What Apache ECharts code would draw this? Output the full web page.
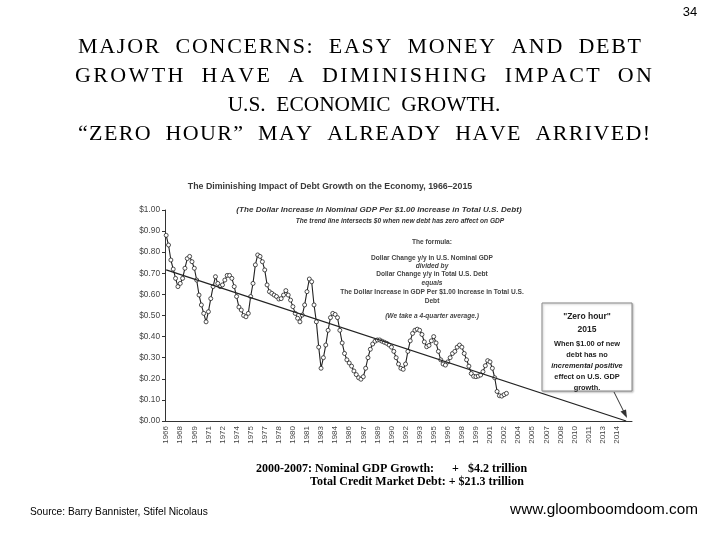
<!DOCTYPE html>
<html>
<head>
<meta charset="utf-8">
<script src="https://cdn.jsdelivr.net/npm/echarts@6/dist/echarts.min.js"></script>
<style>
html,body{margin:0;padding:0;background:#fff;}
#chart{width:720px;height:540px;}
</style>
</head>
<body>
<div id="chart"></div>
<script>
// ---- data (quarterly, starting 1966 Q3) ----
const startYear = 1966, startQuarter = 3, nCategories = 199;
const xTickLabels = ['1966','1968','1969','1971','1972','1974','1975','1977','1978','1980','1981','1983','1984','1986','1987','1989','1990','1992','1993','1995','1996','1998','1999','2001','2002','2004','2005','2007','2008','2010','2011','2013','2014'];
const ratio1966to1974 = [0.88,0.834,0.763,0.72,0.676,0.637,0.652,0.676,0.724,0.77,0.78,0.755,0.724,0.668,0.597,0.55,0.51,0.47,0.518,0.58,0.637,0.684,0.652,0.637,0.645,0.668,0.69,0.69,0.676,0.637,0.59,0.54];
const ratio1974to1983 = [0.526,0.50,0.494,0.51,0.59,0.652,0.74,0.787,0.78,0.755,0.716,0.645,0.613,0.605,0.597,0.59,0.578,0.58,0.597,0.618,0.597,0.573,0.542,0.51,0.487,0.47,0.502,0.55,0.613,0.673,0.66,0.55,0.47,0.35];
const ratio1983to1992 = [0.25,0.30,0.36,0.43,0.49,0.51,0.505,0.49,0.43,0.37,0.32,0.29,0.275,0.26,0.237,0.22,0.205,0.198,0.21,0.25,0.30,0.34,0.365,0.378,0.384,0.384,0.378,0.373,0.368,0.36,0.35,0.33,0.30,0.27,0.25,0.245];
const ratio1992to2002 = [0.27,0.33,0.38,0.415,0.43,0.435,0.43,0.41,0.375,0.352,0.358,0.38,0.40,0.37,0.33,0.29,0.27,0.265,0.28,0.30,0.32,0.33,0.35,0.36,0.35,0.32,0.29,0.26,0.225,0.212,0.21,0.213,0.218,0.234,0.262,0.286,0.28,0.25,0.205,0.14,0.12,0.118,0.125,0.131];
const trendStart = { index: 0, value: 0.716 };
const trendEnd = { index: 196, value: 0 };   // "Zero hour" 2015

const categories = [];
for (let i = 0; i < nCategories; i++) {
  const q = startQuarter - 1 + i;
  categories.push((startYear + Math.floor(q / 4)) + 'Q' + (q % 4 + 1));
}
const ratio = [].concat(ratio1966to1974, ratio1974to1983, ratio1983to1992, ratio1992to2002);

const chart = echarts.init(document.getElementById('chart'), null, {renderer: 'canvas'});
const sans = 'Liberation Sans, Arial, sans-serif';
const serif = 'Liberation Serif, Times New Roman, serif';
const ink = '#333';

function txt(x, y, s, size, opts) {
  return {
    type: 'text', x: x, y: y,
    style: Object.assign({text: s, fontFamily: sans, fontSize: size, fill: ink, textAlign: 'center', textVerticalAlign: 'middle'}, opts || {})
  };
}

const graphics = [];
graphics.push(txt(690, 12, '34', 13, {fill: '#000'}));

// Title: lines 1, 2, 4 are character-distributed across a fixed width; line 3 is centered
const titleSize = 22;
const titleLines = [
  {text: 'MAJOR  CONCERNS:  EASY  MONEY  AND  DEBT', y: 47, l: 78, r: 641},
  {text: 'GROWTH  HAVE  A  DIMINISHING  IMPACT  ON', y: 76, l: 75, r: 652},
  {text: 'U.S.  ECONOMIC  GROWTH.', y: 105, l: null, r: null},
  {text: '\u201CZERO  HOUR\u201D  MAY  ALREADY  HAVE  ARRIVED!', y: 134, l: 78, r: 650}
];
const mctx = document.createElement('canvas').getContext('2d');
mctx.font = titleSize + 'px "Liberation Serif"';
titleLines.forEach(line => {
  if (line.l === null) {
    graphics.push(txt(364, line.y, line.text, 21.4, {fontFamily: serif, fill: '#000'}));
    return;
  }
  const chars = Array.from(line.text);
  const widths = chars.map(c => mctx.measureText(c).width);
  const total = widths.reduce((a, b) => a + b, 0);
  const extra = (line.r - line.l - total) / (chars.length - 1);
  let x = line.l;
  chars.forEach((c, i) => {
    if (c !== ' ') graphics.push(txt(x, line.y, c, titleSize, {fontFamily: serif, fill: '#000', textAlign: 'left'}));
    x += widths[i] + extra;
  });
});

graphics.push(txt(330, 187, 'The Diminishing Impact of Debt Growth on the Economy, 1966\u20132015', 8.8, {fontWeight: 'bold', fill: '#3a3a3a'}));
graphics.push(txt(379, 210, '(The Dollar Increase in Nominal GDP Per $1.00 Increase in Total U.S. Debt)', 8.1, {fontWeight: 'bold', fontStyle: 'italic'}));
graphics.push(txt(400, 221, 'The trend line intersects $0 when new debt has zero affect on GDP', 6.6, {fontWeight: 'bold', fontStyle: 'italic'}));
const formula = [
  ['The formula:', 242, 'normal'],
  ['Dollar Change y/y in U.S. Nominal GDP', 258, 'normal'],
  ['divided by', 266, 'italic'],
  ['Dollar Change y/y in Total U.S. Debt', 274, 'normal'],
  ['equals', 283, 'italic'],
  ['The Dollar Increase in GDP Per $1.00 Increase in Total U.S.', 292, 'normal'],
  ['Debt', 301, 'normal'],
  ['(We take a 4-quarter average.)', 316, 'italic']
];
formula.forEach(f => graphics.push(txt(432, f[1], f[0], 6.6, {fontWeight: 'bold', fontStyle: f[2], fill: '#444'})));

// Zero hour box
graphics.push({type: 'rect', shape: {x: 542, y: 303, width: 90, height: 88},
  style: {fill: '#fff', stroke: '#888', lineWidth: 1, shadowBlur: 2, shadowColor: 'rgba(0,0,0,0.25)', shadowOffsetX: 1, shadowOffsetY: 1}, z: 5});
const boxLines = [
  ['"Zero hour"', 317, 'bold', 'normal', 8.5],
  ['2015', 330, 'bold', 'normal', 8.5],
  ['When $1.00 of new', 344, 'bold', 'normal', 7.4],
  ['debt has no', 355, 'bold', 'normal', 7.4],
  ['incremental positive', 366, 'bold', 'italic', 7.4],
  ['effect on U.S. GDP', 377, 'bold', 'normal', 7.4],
  ['growth.', 388, 'bold', 'normal', 7.4]
];
boxLines.forEach(b => { const t = txt(587, b[1], b[0], b[4], {fontWeight: b[2], fontStyle: b[3], fill: '#222'}); t.z = 6; graphics.push(t); });

// arrow head at the end of the pointer
graphics.push({type: 'polygon', shape: {points: [[627, 418], [620.5, 411.5], [626, 409.5]]}, style: {fill: '#333'}, z: 6});

graphics.push(txt(256, 469, '2000-2007: Nominal GDP Growth:      +   $4.2 trillion', 12, {fontFamily: serif, fontWeight: 'bold', fill: '#000', textAlign: 'left'}));
graphics.push(txt(310, 482, 'Total Credit Market Debt: + $21.3 trillion', 12, {fontFamily: serif, fontWeight: 'bold', fill: '#000', textAlign: 'left'}));
graphics.push(txt(30, 512, 'Source: Barry Bannister, Stifel Nicolaus', 10.2, {fill: '#000', textAlign: 'left'}));
graphics.push(txt(698, 510, 'www.gloomboomdoom.com', 15.3, {fill: '#000', textAlign: 'right'}));

chart.setOption({
  backgroundColor: '#fff',
  animation: false,
  grid: {left: 165, top: 210, width: 467, height: 211, containLabel: false},
  xAxis: {
    type: 'category', data: categories, boundaryGap: true,
    axisLine: {lineStyle: {color: '#333', width: 1}},
    axisTick: {alignWithLabel: true, interval: 5, length: 3, lineStyle: {color: '#333'}},
    axisLabel: {interval: 5, rotate: 90, fontSize: 8, color: '#444', fontFamily: sans, margin: 5,
      formatter: (v, i) => xTickLabels[Math.round(i / 6)] || ''},
    splitLine: {show: false}
  },
  yAxis: {
    type: 'value', min: 0, max: 1, interval: 0.1,
    axisLine: {show: true, lineStyle: {color: '#333', width: 1}},
    axisTick: {show: true, length: 3, lineStyle: {color: '#333'}},
    axisLabel: {fontSize: 8.3, color: '#444', fontFamily: sans, margin: 5,
      formatter: v => '$' + v.toFixed(2)},
    splitLine: {show: false}
  },
  series: [
    {
      type: 'line', data: ratio, symbol: 'circle', symbolSize: 4, showAllSymbol: true,
      lineStyle: {color: '#222', width: 1.1},
      itemStyle: {color: '#fff', borderColor: '#222', borderWidth: 0.8},
      z: 3
    },
    {
      type: 'line', data: [[trendStart.index, trendStart.value], [trendEnd.index, trendEnd.value]],
      symbol: 'none', lineStyle: {color: '#222', width: 1.3}, z: 4,
      markLine: {
        silent: true, symbol: ['none', 'none'],
        lineStyle: {color: '#333', width: 1, type: 'solid'}, label: {show: false},
        data: [[{x: 614, y: 392}, {x: 626, y: 416}]]
      }
    }
  ],
  graphic: graphics
});
</script>
</body>
</html>
